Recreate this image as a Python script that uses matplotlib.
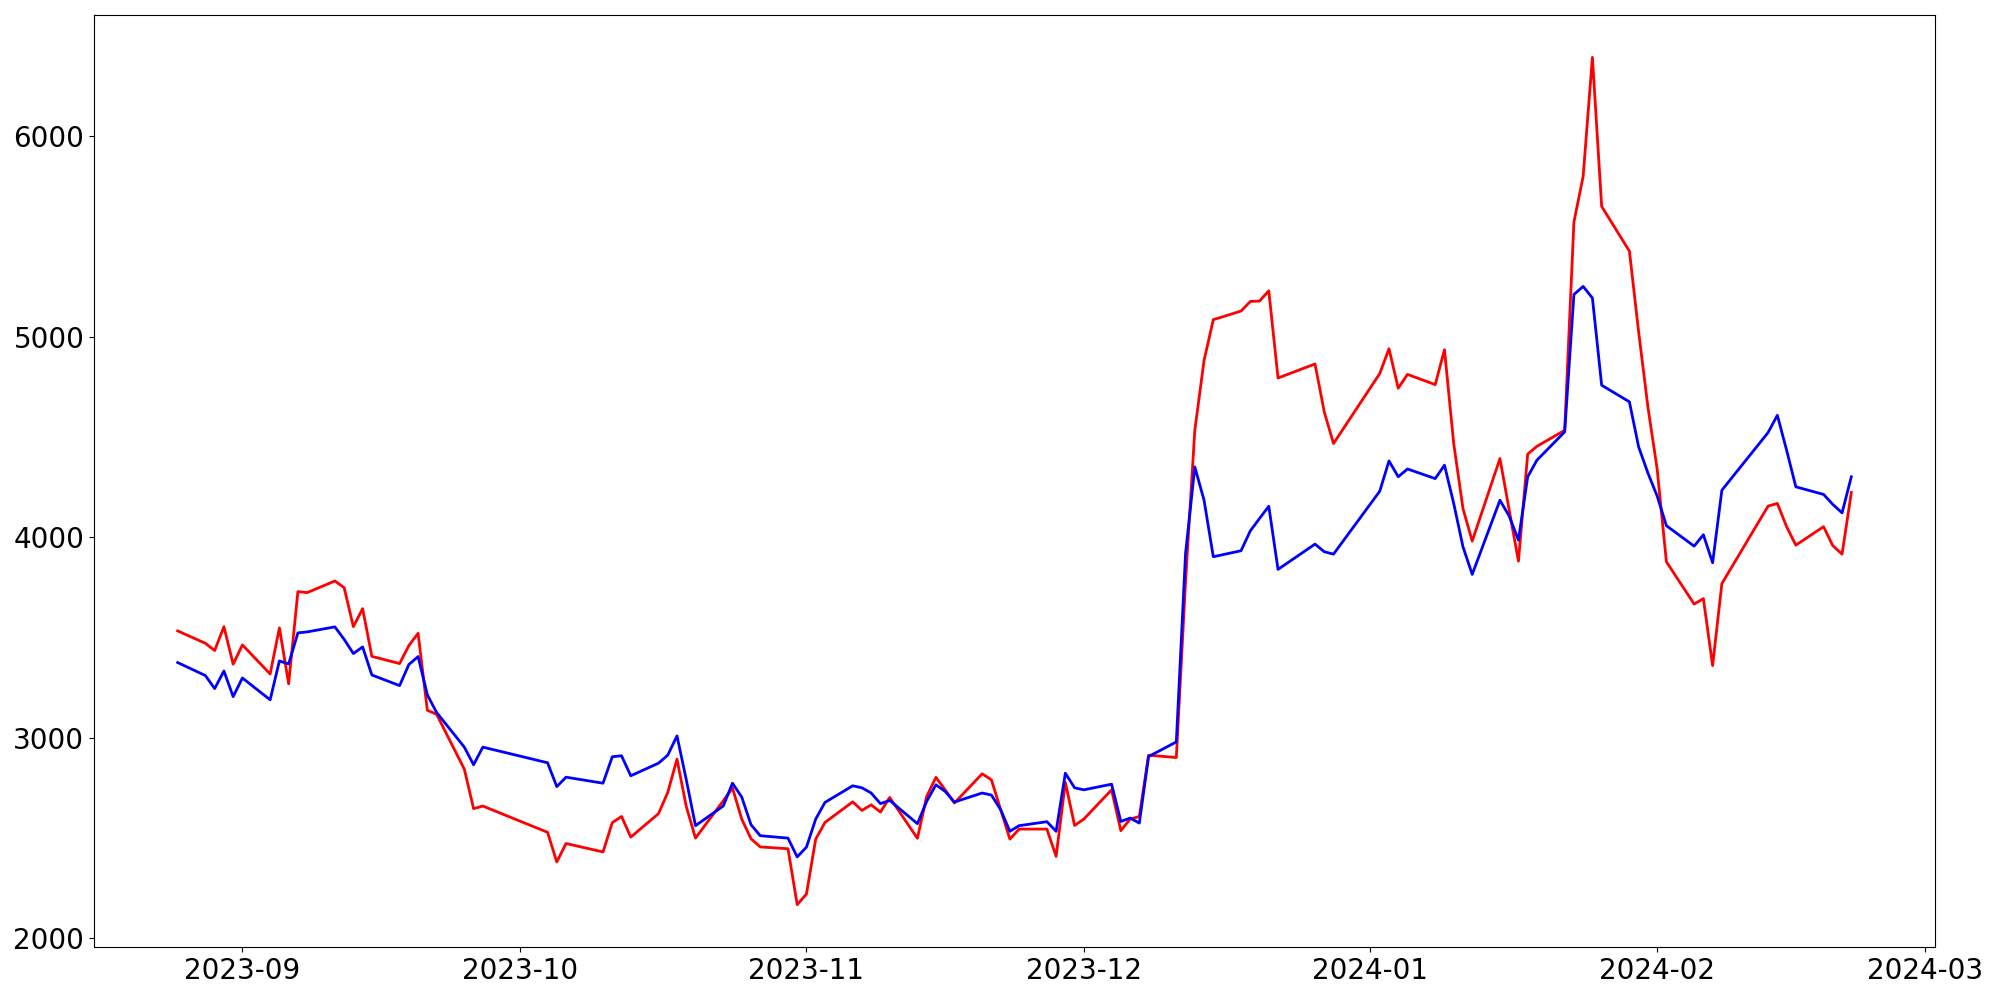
import pandas as pd
import matplotlib
matplotlib.use("Agg")
import matplotlib.pyplot as plt

# KRX trading days between 2023-08-25 and 2024-02-22
holidays = ["2023-09-28", "2023-09-29", "2023-10-02", "2023-10-03", "2023-10-09",
            "2023-12-25", "2023-12-29", "2024-01-01", "2024-02-09", "2024-02-12"]
days = pd.bdate_range("2023-08-25", "2024-02-22")
days = days[~days.isin(pd.to_datetime(holidays))]

red_vals = [
    3532, 3470, 3434, 3553, 3366,
    3462, 3317, 3547, 3268, 3728, 3723, 3781, 3748, 3553, 3643, 3405,
    3369, 3459, 3520, 3136, 3116, 2842, 2645, 2658,
    2527, 2379, 2471, 2429, 2575, 2606, 2503, 2620, 2726, 2892, 2656, 2498,
    2684, 2748, 2593, 2495, 2454, 2445, 2166,
    2219, 2493, 2576, 2679, 2636, 2664, 2628, 2701, 2497, 2706, 2801, 2739,
    2673, 2819, 2789, 2641, 2493, 2543, 2543, 2407, 2776, 2561,
    2593, 2739, 2535, 2593, 2606, 2912, 2900, 3780, 4533, 4882, 5085,
    5128, 5176, 5178, 5229, 4794, 4864, 4625, 4467,
    4816, 4940, 4743, 4812, 4761, 4935, 4467, 4143, 3980, 4392, 4135, 3880,
    4414, 4453, 4533, 5572, 5801, 6394, 5650, 5427, 5024, 4650,
    4340, 3877, 3666, 3693, 3359, 3768, 4155, 4168, 4052, 3960, 4052, 3957,
    3915, 4223,
]
blue_vals = [
    3374, 3309, 3244, 3332, 3204,
    3297, 3188, 3382, 3367, 3522, 3527, 3552, 3490, 3419, 3452, 3312,
    3259, 3364, 3404, 3213, 3125, 2952, 2864, 2952,
    2874, 2755, 2802, 2772, 2904, 2909, 2809, 2872, 2912, 3008, 2790, 2560,
    2658, 2772, 2703, 2565, 2510, 2498, 2404,
    2453, 2593, 2676, 2759, 2749, 2723, 2670, 2686, 2570, 2681, 2764, 2731,
    2678, 2723, 2713, 2640, 2532, 2560, 2580, 2532, 2822, 2749,
    2739, 2767, 2581, 2598, 2573, 2905, 2978, 3919, 4350, 4184, 3902,
    3932, 4031, 4093, 4154, 3839, 3965, 3927, 3915,
    4229, 4380, 4301, 4340, 4292, 4359, 4168, 3952, 3814, 4184, 4105, 3985,
    4301, 4384, 4525, 5211, 5251, 5193, 4758, 4675, 4450, 4320,
    4205, 4057, 3955, 4012, 3872, 4234, 4522, 4608, 4434, 4251, 4213, 4163,
    4121, 4301,
]

fig, ax = plt.subplots(figsize=(20, 10), dpi=100)
ax.plot(days, red_vals, color="red", linewidth=2)
ax.plot(days, blue_vals, color="blue", linewidth=2)
ax.tick_params(labelsize=20)
fig.subplots_adjust(left=0.047, right=0.9675, bottom=0.053, top=0.985)
fig.savefig("out.png")
